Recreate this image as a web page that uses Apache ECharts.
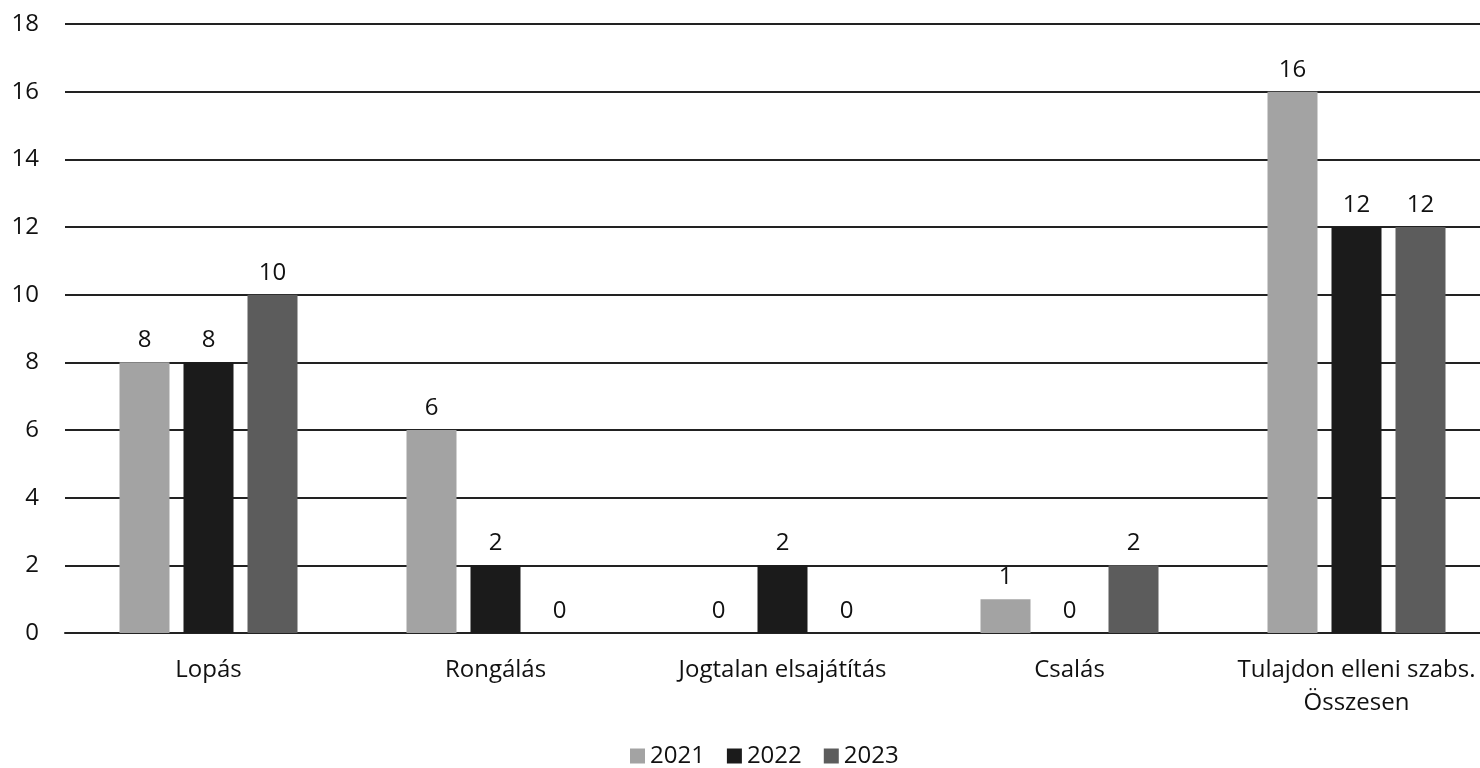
<!DOCTYPE html>
<html><head><meta charset="utf-8">
<script src="https://cdn.jsdelivr.net/npm/echarts@6/dist/echarts.min.js"></script>
<style>html,body{margin:0;padding:0;background:#fff;overflow:hidden}#c{width:1500px;height:768px}</style>
</head><body><div id="c"></div>
<script>
const categories = ['Lopás', 'Rongálás', 'Jogtalan elsajátítás', 'Csalás', 'Tulajdon elleni szabs.\nÖsszesen'];
const seriesNames = ['2021', '2022', '2023'];
const values2021 = [8, 6, 0, 1, 16];
const values2022 = [8, 2, 2, 0, 12];
const values2023 = [10, 0, 0, 2, 12];
const yTicks = [0, 2, 4, 6, 8, 10, 12, 14, 16, 18];

const colors = ['#a3a3a3', '#1b1b1b', '#5c5c5c'];
const font = 'Open Sans';
const chart = echarts.init(document.getElementById('c'));
const mk = (name, data, i) => ({
  name, type: 'bar', data, barWidth: 50, barGap: '28%',
  itemStyle: { color: colors[i] },
  label: { show: true, position: 'top', distance: 10, color: '#111', fontFamily: font, fontSize: 24 }
});
chart.setOption({
  animation: false,
  color: colors,
  grid: { left: 65, top: 24, right: 0, bottom: 135, containLabel: false },
  legend: {
    bottom: -5, left: 625, itemWidth: 15, itemHeight: 15, itemGap: 22,
    icon: 'rect',
    textStyle: { fontFamily: font, fontSize: 24, color: '#111' },
    data: seriesNames
  },
  xAxis: {
    type: 'category', data: categories,
    axisLine: { lineStyle: { color: '#222', width: 2 } },
    axisTick: { show: false },
    axisLabel: { fontFamily: font, fontSize: 24, color: '#111', margin: 21, lineHeight: 33, interval: 0 }
  },
  yAxis: {
    type: 'value', min: 0, max: 18, interval: 2,
    axisLine: { show: false }, axisTick: { show: false },
    splitLine: { lineStyle: { color: '#222', width: 2 } },
    axisLabel: { fontFamily: font, fontSize: 24, color: '#111', margin: 26,
      formatter: v => yTicks.includes(v) ? String(v) : '' }
  },
  series: [mk(seriesNames[0], values2021, 0), mk(seriesNames[1], values2022, 1), mk(seriesNames[2], values2023, 2)]
});
</script></body></html>
